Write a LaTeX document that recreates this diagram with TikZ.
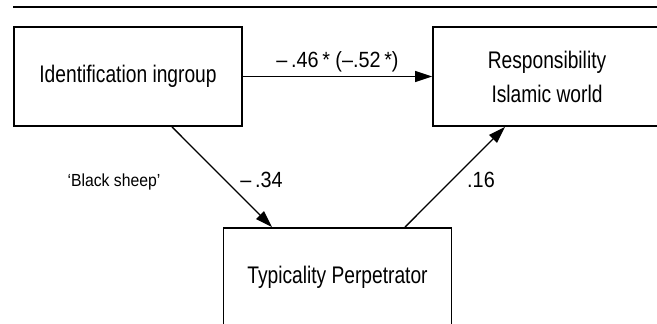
\documentclass[tikz,border=0pt]{standalone}
\usepackage{fontspec}
\setmainfont[FakeStretch=0.8]{Liberation Sans}
\newfontfamily\labfont[FakeStretch=0.9]{Liberation Sans}
\usetikzlibrary{arrows.meta}
\tikzset{
  box/.style={draw, line width=1.8pt, minimum width=228pt, minimum height=99pt, inner sep=0pt, align=center, font=\fontsize{24}{34}\selectfont},
  arr/.style={line width=1.3pt, -{Triangle[length=17pt,width=11pt]}},
  lab/.style={anchor=base, inner sep=0pt, font=\labfont\fontsize{22}{26}\selectfont},
  small/.style={anchor=base, inner sep=0pt, font=\labfont\fontsize{17.5}{20}\selectfont}
}
\begin{document}
\begin{tikzpicture}[x=1pt,y=-1pt]
\clip (0,0) rectangle (657,324);
\fill[white] (0,0) rectangle (657,324);
\coordinate (ruleL) at (13,7);
\coordinate (ruleR) at (657,7);
\draw[line width=2pt] (ruleL) -- (ruleR);
\node[box] (id) at (128,76.5) {Identification ingroup};
\node[box] (resp) at (547,76.5) {Responsibility\\Islamic world};
\node[box] (typ) at (337.5,277.5) {Typicality Perpetrator};
\draw[arr] (id.east) -- (resp.west)
  node[lab, midway, yshift=9pt] (l46) {–\,.46\,* (–.52\,*)};
\draw[arr] ([xshift=44pt]id.south) -- ([xshift=-65.5pt]typ.north);
\draw[arr] ([xshift=67.5pt]typ.north) -- ([xshift=-42pt]resp.south);
\node[lab] (l34) at (261.5,187) {–\,.34};
\node[lab] (l16) at (481,187) {.16};
\node[small] (bs) at (114,186) {‘Black sheep’};
\end{tikzpicture}
\end{document}
